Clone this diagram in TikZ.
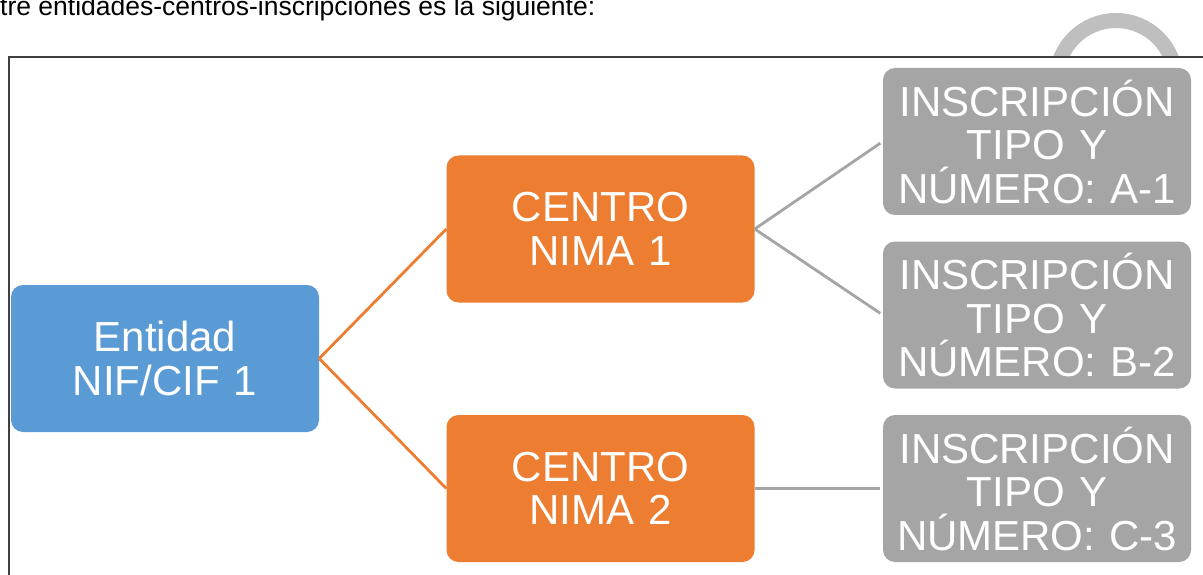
\documentclass[tikz,border=0pt]{standalone}
\usepackage{fontspec}
\setmainfont{Liberation Sans}
\definecolor{entblue}{HTML}{5B9BD5}
\definecolor{cenorange}{HTML}{ED7D31}
\definecolor{insgray}{HTML}{A5A5A5}
\definecolor{arcgray}{HTML}{BFBFBF}
\definecolor{framegray}{HTML}{404040}
\begin{document}
\begin{tikzpicture}[x=1pt,y=-1pt,
    box/.style={rounded corners=12pt, minimum width=308pt, minimum height=147pt,
        inner sep=0pt, text width=308pt, align=center, text=white,
        font=\fontsize{42}{43.5}\selectfont},
    entbox/.style={box, fill=entblue},
    cenbox/.style={box, fill=cenorange},
    insbox/.style={box, fill=insgray},
    orangelink/.style={cenorange, line width=2.8pt},
    graylink/.style={insgray, line width=2.8pt, shorten >=3pt}]
    \useasboundingbox (0,0) rectangle (1203,575);
    % ring behind the frame, frame over it
    \draw[arcgray, line width=15pt] (1116,80) circle[radius=59.5pt];
    \draw[framegray, line width=1.3pt, fill=white] (9,57) rectangle (1215,590);
    \node[anchor=base west, inner sep=0pt, font=\fontsize{26.5}{30}\selectfont] (intro) at (0,15.5)
        {tre entidades-centros-inscripciones es la siguiente:};
    % boxes
    \node[entbox] (ent) at (165,358.5) {Entidad\\NIF/CIF 1};
    \node[cenbox] (cen1) at (600.5,229) {CENTRO\\NIMA 1};
    \node[cenbox] (cen2) at (600.5,488.5) {CENTRO\\NIMA 2};
    \foreach \n/\lbl/\yy in {A/A-1/141.5, B/B-2/315, C/C-3/488.5}
        \node[insbox] (ins\n) at (1037,\yy) {INSCRIPCIÓN\\TIPO Y\\NÚMERO: \lbl};
    % links
    \draw[orangelink] (ent.east) -- (cen1.west);
    \draw[orangelink] (ent.east) -- (cen2.west);
    \draw[graylink] (cen1.east) -- (insA.west);
    \draw[graylink] (cen1.east) -- (insB.west);
    \draw[graylink] (cen2.east) -- (insC.west);
\end{tikzpicture}
\end{document}
